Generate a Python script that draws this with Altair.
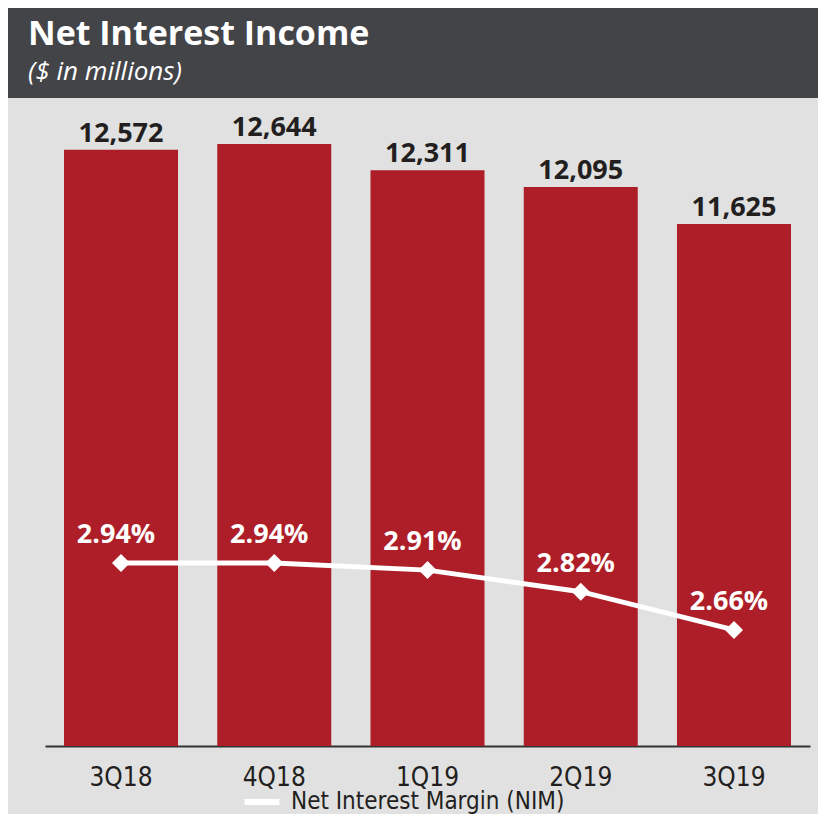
import altair as alt
import pandas as pd

QUARTERS = ["3Q18", "4Q18", "1Q19", "2Q19", "3Q19"]
NII = [12572, 12644, 12311, 12095, 11625]
NIM = [2.94, 2.94, 2.91, 2.82, 2.66]
NII_LABELS = ["12,572", "12,644", "12,311", "12,095", "11,625"]
NIM_LABELS = ["2.94%", "2.94%", "2.91%", "2.82%", "2.66%"]
TITLE = "Net Interest Income"
SUBTITLE = "($ in millions)"
LEGEND_LABEL = "Net Interest Margin (NIM)"

RED = "#AD1E28"
DARK = "#231F20"
HEADER = "#434448"
BG = "#E1E1E1"

df = pd.DataFrame({
    "q": QUARTERS,
    "nii": NII,
    "nim": NIM,
    "nii_label": NII_LABELS,
    "nim_label": NIM_LABELS,
    "series": [LEGEND_LABEL] * len(QUARTERS),
})

x = alt.X(
    "q:N",
    sort=QUARTERS,
    scale=alt.Scale(range=[37, 802], paddingInner=0.256, paddingOuter=0.124),
    axis=alt.Axis(
        title=None, labelAngle=0, labelFont="DejaVu Sans Condensed",
        labelFontSize=26, labelColor=DARK, labelPadding=18, ticks=False,
        domainColor="#333333", domainWidth=2,
    ),
)
ybar = alt.Y("nii:Q", scale=alt.Scale(domain=[4975, 13230], zero=False, clamp=True), axis=None)
ynim = alt.Y("nim:Q", scale=alt.Scale(domain=[2.175, 4.883], zero=False), axis=None)

base = alt.Chart(df)
bars = base.mark_bar(color=RED).encode(x=x, y=ybar)
bar_text = base.mark_text(
    dy=-8, baseline="alphabetic", font="Open Sans", fontWeight="bold",
    fontSize=27, color=DARK,
).encode(x=x, y=ybar, text="nii_label:N")
line = base.mark_line(strokeWidth=5).encode(
    x=x, y=ynim,
    color=alt.Color(
        "series:N", scale=alt.Scale(range=["#FFFFFF"]), title=None,
        legend=alt.Legend(
            orient="none", legendX=241, legendY=781,
            symbolType="M-1.75,0L1.75,0", symbolSize=400, symbolStrokeWidth=6,
            labelFont="DejaVu Sans Condensed", labelFontSize=24, labelColor=DARK,
            labelOffset=16, padding=0, labelLimit=0,
        ),
    ),
)
points = base.mark_point(shape="diamond", filled=True, size=324, color="#FFFFFF", opacity=1).encode(x=x, y=ynim)
nim_text = base.mark_text(
    dx=-5, dy=-20, baseline="alphabetic", font="Open Sans", fontWeight="bold",
    fontSize=27, color="#FFFFFF",
).encode(x=x, y=ynim, text="nim_label:N")

main = alt.layer(bars, bar_text, line, points, nim_text).resolve_scale(y="independent").properties(
    width=810, height=648, view=alt.ViewBackground(fill="transparent", strokeWidth=0)
)

hdf = pd.DataFrame({"title": [TITLE], "subtitle": [SUBTITLE]})
hbase = alt.Chart(hdf)
t1 = hbase.mark_text(
    align="left", baseline="alphabetic", font="Open Sans", fontWeight="bold",
    fontSize=34, color="#FFFFFF",
).encode(x=alt.value(20), y=alt.value(37), text="title:N")
t2 = hbase.mark_text(
    align="left", baseline="alphabetic", font="Open Sans", fontStyle="italic",
    fontSize=26, color="#FFFFFF",
).encode(x=alt.value(20), y=alt.value(72), text="subtitle:N")
header = alt.layer(t1, t2).properties(
    width=810, height=90, view=alt.ViewBackground(fill=HEADER, strokeWidth=0)
)

chart = alt.vconcat(header, main, spacing=0).properties(
    padding=0, background=BG
).configure_view(strokeWidth=0)

chart.save("out.html", embed_options={"renderer": "svg", "actions": False})
